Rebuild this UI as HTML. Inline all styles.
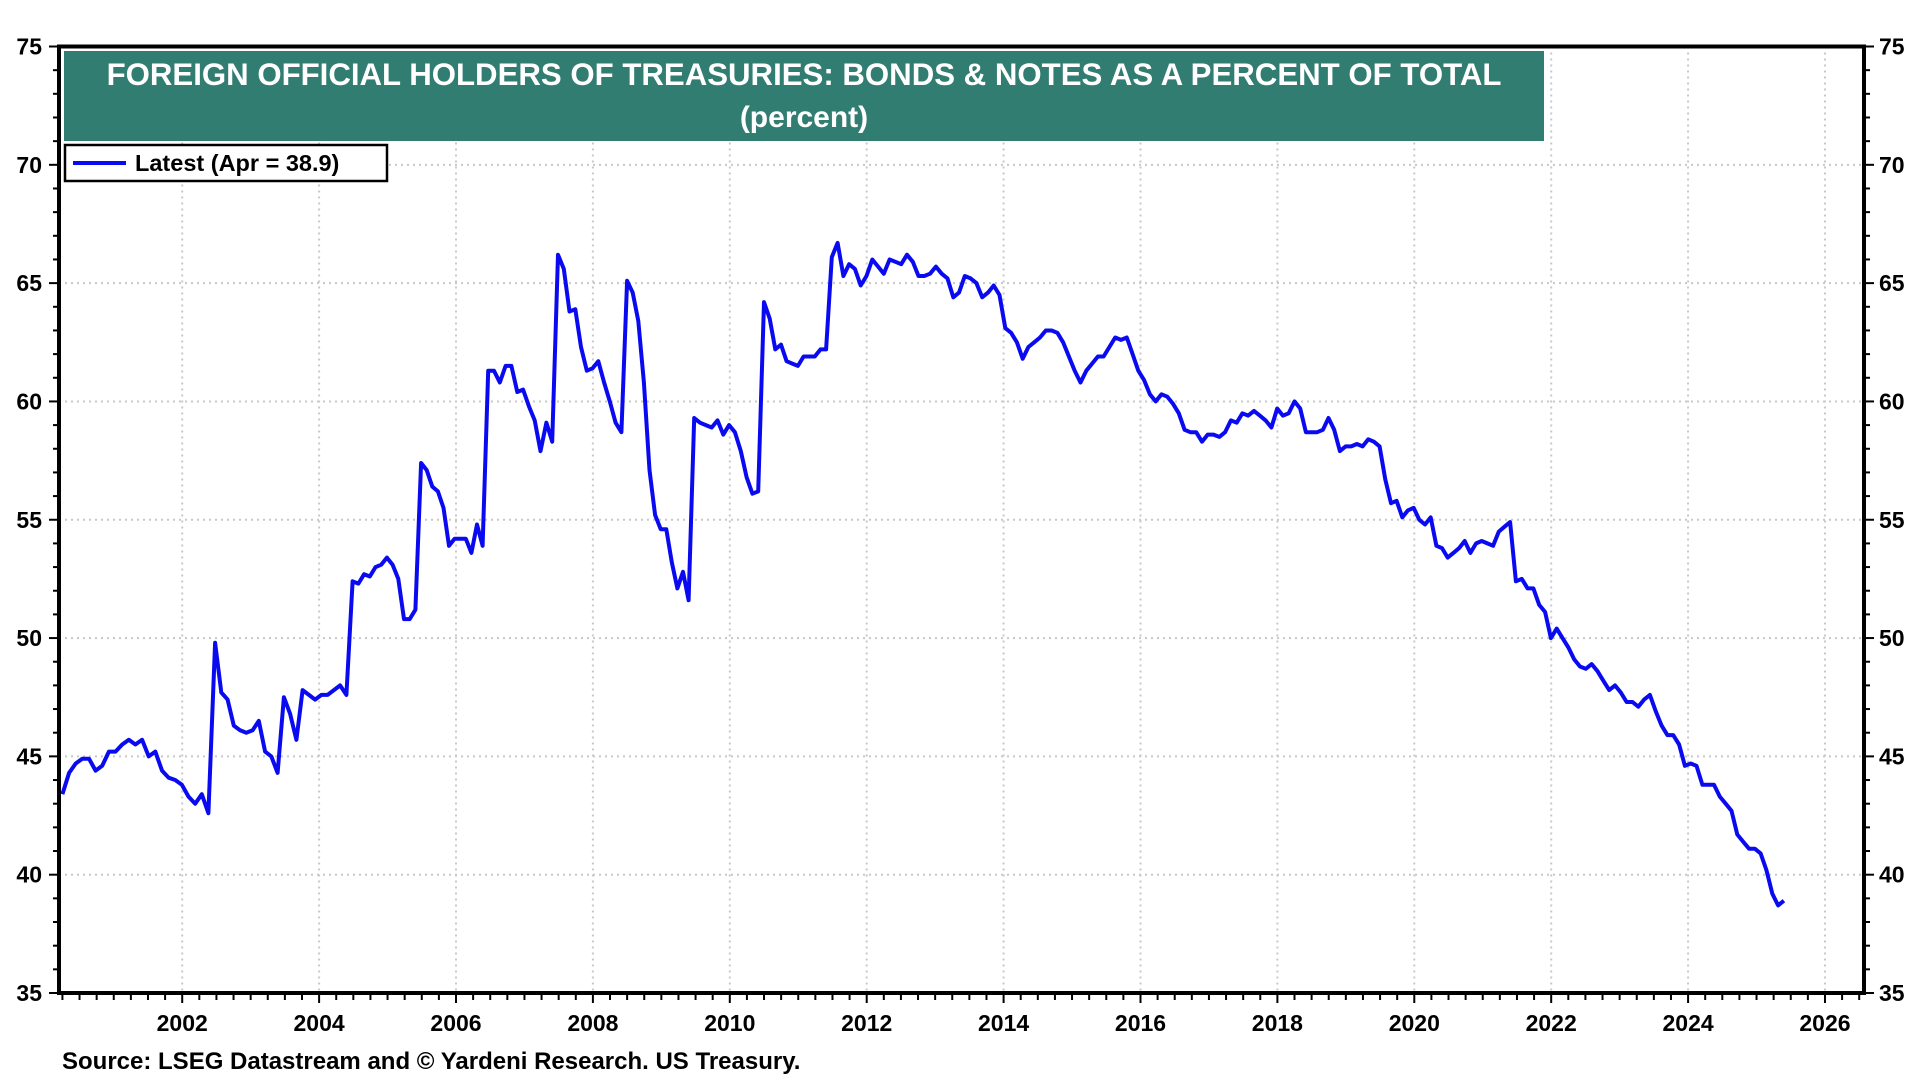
<!DOCTYPE html>
<html><head><meta charset="utf-8"><style>
html,body{margin:0;padding:0;background:#fff;}
svg{display:block;font-family:"Liberation Sans",Arial,sans-serif;}
</style></head><body>
<svg id="chart" width="1920" height="1080" viewBox="0 0 1920 1080">
<g id="grid"></g>
<g id="axes"></g>
<path id="series" fill="none" stroke="#0a0af0" stroke-width="4" stroke-linejoin="round"/>
<rect x="64" y="51" width="1480" height="90" fill="#317d71"/>
<text x="804" y="85" text-anchor="middle" fill="#fff" font-size="31.2" font-weight="bold">FOREIGN OFFICIAL HOLDERS OF TREASURIES: BONDS &amp; NOTES AS A PERCENT OF TOTAL</text>
<text x="804" y="127" text-anchor="middle" fill="#fff" font-size="30" font-weight="bold">(percent)</text>
<g>
<rect x="65" y="145" width="322" height="36" fill="#fff" stroke="#000" stroke-width="2.5"/>
<line x1="73" y1="163" x2="126" y2="163" stroke="#0a0af0" stroke-width="4"/>
<text x="135" y="171" font-size="23.5" font-weight="bold">Latest (Apr = 38.9)</text>
</g>
<text x="62" y="1069" font-size="24" font-weight="bold">Source: LSEG Datastream and © Yardeni Research. US Treasury.</text>
</svg>
<script>
const anchorIndex = [0, 23, 45, 57, 69, 81, 93, 105, 117, 129, 209, 247, 294];
const anchorDate = [2000.25, 2002.48, 2004.49, 2005.49, 2006.47, 2007.49, 2008.50, 2009.48, 2010.50, 2011.49, 2018.25, 2021.40, 2025.40];
const values = [43.4,44.3,44.7,44.9,44.9,44.4,44.6,45.2,45.2,45.5,45.7,45.5,45.7,45.0,45.2,44.4,44.1,44.0,43.8,43.3,43.0,43.4,42.6,49.8,47.7,47.4,46.3,46.1,46.0,46.1,46.5,45.2,45.0,44.3,47.5,46.8,45.7,47.8,47.6,47.4,47.6,47.6,47.8,48.0,47.6,52.4,52.3,52.7,52.6,53.0,53.1,53.4,53.1,52.5,50.8,50.8,51.2,57.4,57.1,56.4,56.2,55.5,53.9,54.2,54.2,54.2,53.6,54.8,53.9,61.3,61.3,60.8,61.5,61.5,60.4,60.5,59.8,59.2,57.9,59.1,58.3,66.2,65.6,63.8,63.9,62.3,61.3,61.4,61.7,60.8,60.0,59.1,58.7,65.1,64.6,63.4,60.8,57.1,55.2,54.6,54.6,53.2,52.1,52.8,51.6,59.3,59.1,59.0,58.9,59.2,58.6,59.0,58.7,57.9,56.8,56.1,56.2,64.2,63.5,62.2,62.4,61.7,61.6,61.5,61.9,61.9,61.9,62.2,62.2,66.1,66.7,65.3,65.8,65.6,64.9,65.3,66.0,65.7,65.4,66.0,65.9,65.8,66.2,65.9,65.3,65.3,65.4,65.7,65.4,65.2,64.4,64.6,65.3,65.2,65.0,64.4,64.6,64.9,64.5,63.1,62.9,62.5,61.8,62.3,62.5,62.7,63.0,63.0,62.9,62.5,61.9,61.3,60.8,61.3,61.6,61.9,61.9,62.3,62.7,62.6,62.7,62.0,61.3,60.9,60.3,60.0,60.3,60.2,59.9,59.5,58.8,58.7,58.7,58.3,58.6,58.6,58.5,58.7,59.2,59.1,59.5,59.4,59.6,59.4,59.2,58.9,59.7,59.4,59.5,60.0,59.7,58.7,58.7,58.7,58.8,59.3,58.8,57.9,58.1,58.1,58.2,58.1,58.4,58.3,58.1,56.7,55.7,55.8,55.1,55.4,55.5,55.0,54.8,55.1,53.9,53.8,53.4,53.6,53.8,54.1,53.6,54.0,54.1,54.0,53.9,54.5,54.7,54.9,52.4,52.5,52.1,52.1,51.4,51.1,50.0,50.4,50.0,49.6,49.1,48.8,48.7,48.9,48.6,48.2,47.8,48.0,47.7,47.3,47.3,47.1,47.4,47.6,46.9,46.3,45.9,45.9,45.5,44.6,44.7,44.6,43.8,43.8,43.8,43.3,43.0,42.7,41.7,41.4,41.1,41.1,40.9,40.2,39.2,38.7,38.9];
const yTicks = [35,40,45,50,55,60,65,70,75];
const xTicks = [2002,2004,2006,2008,2010,2012,2014,2016,2018,2020,2022,2024,2026];

const L=59,R=1864,T=46.5,B=993;
const xMin=2000.2, xMax=2026.57, yMin=35, yMax=75;
const X=v=>L+(v-xMin)/(xMax-xMin)*(R-L);
const Y=v=>B-(v-yMin)/(yMax-yMin)*(B-T);
const NS='http://www.w3.org/2000/svg';
function mk(parent,tag,attrs){const e=document.createElementNS(NS,tag);for(const k in attrs)e.setAttribute(k,attrs[k]);parent.appendChild(e);return e;}
const grid=document.getElementById('grid'), axes=document.getElementById('axes');

yTicks.forEach(t=>{
  if(t>yMin&&t<yMax){const g=mk(grid,'line',{x1:L,x2:R,y1:Y(t),y2:Y(t),stroke:'#c8c8c8','stroke-width':2,'stroke-dasharray':'2 4'});
  
  }
  const a=mk(axes,'text',{x:42,y:Y(t)+8,'text-anchor':'end','font-size':23,'font-weight':'bold'});a.textContent=t;
  
  
  const b=mk(axes,'text',{x:1879,y:Y(t)+8,'font-size':23,'font-weight':'bold'});b.textContent=t;
  
  
});
for(let v=yMin;v<=yMax;v++){
  const len=(v%5===0)?10:6;
  mk(axes,'line',{x1:L-len,x2:L,y1:Y(v),y2:Y(v),stroke:'#000','stroke-width':2});
  mk(axes,'line',{x1:R,x2:R+len,y1:Y(v),y2:Y(v),stroke:'#000','stroke-width':2});
}
xTicks.forEach(t=>{
  const g=mk(grid,'line',{x1:X(t),x2:X(t),y1:T,y2:B,stroke:'#c8c8c8','stroke-width':2,'stroke-dasharray':'2 4'});
  
  
  const a=mk(axes,'text',{x:X(t),y:1031,'text-anchor':'middle','font-size':23,'font-weight':'bold'});a.textContent=t;
  
  
});
for(let q=Math.ceil(xMin*4);q/4<=xMax;q++){
  const v=q/4, major=(q%8===0);
  mk(axes,'line',{x1:X(v),x2:X(v),y1:B,y2:B+(major?10:7),stroke:'#000','stroke-width':2});
}
const frame=mk(axes,'rect',{x:L,y:T,width:R-L,height:B-T,fill:'none',stroke:'#000','stroke-width':4});



function dateAt(i){
  for(let k=0;k<anchorIndex.length-1;k++){
    const a=anchorIndex[k], b=anchorIndex[k+1];
    if(i<=b||k===anchorIndex.length-2){
      return anchorDate[k]+(i-a)/(b-a)*(anchorDate[k+1]-anchorDate[k]);
    }
  }
  return anchorDate[anchorDate.length-1];
}
let d='';
values.forEach((v,i)=>{d+=(i?'L':'M')+X(dateAt(i)).toFixed(1)+','+Y(v).toFixed(1);});
document.getElementById('series').setAttribute('d',d);
</script>
</body></html>
